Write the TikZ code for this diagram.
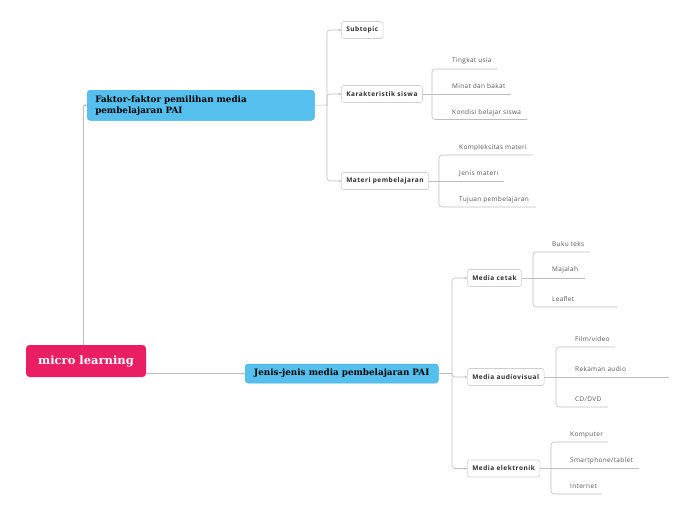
\documentclass[tikz,border=0pt]{standalone}
\usepackage{fontspec}
\setmainfont{Open Sans}
\newfontfamily\slab{DejaVu Serif}
\newfontfamily\labf{Open Sans}[LetterSpace=8]
\newfontfamily\leaff{Open Sans}[LetterSpace=5]
\usetikzlibrary{arrows.meta}
\definecolor{rootc}{HTML}{E91E63}
\definecolor{bluec}{HTML}{55BFEE}
\definecolor{blueb}{HTML}{3FAEE0}
\definecolor{linec}{HTML}{BDBDBD}
\definecolor{boxb}{HTML}{CFCFCF}
\definecolor{txt}{HTML}{2E2E2E}
\definecolor{leaft}{HTML}{555555}
\begin{document}
\begin{tikzpicture}[x=1pt,y=-1pt,
  box/.style={draw=boxb, fill=white, rounded corners=2.5pt, line width=0.6pt,
    minimum height=17pt, inner xsep=5pt, inner ysep=0pt, anchor=west,
    font=\labf\fontsize{6.5}{7.5}\selectfont\bfseries, text=txt},
  leaf/.style={anchor=base west, inner sep=0pt, font=\leaff\fontsize{6.5}{7.5}\selectfont, text=leaft},
  conn/.style={draw=linec, line width=0.6pt, rounded corners=3pt},
  arr/.style={-{Stealth[length=2.5pt,width=2.6pt]}},
  topic/.style={draw=blueb, fill=bluec, rounded corners=3pt, line width=0.5pt,
    font=\slab\bfseries\fontsize{8.8}{11}\selectfont, text=black},
]
\useasboundingbox (0,0) rectangle (696,520);

% root
\node[fill=rootc, rounded corners=3.5pt, minimum width=120pt, minimum height=32pt,
  font=\slab\bfseries\fontsize{11.5}{13}\selectfont, text=white] (R) at (86,361) {micro learning};

% main topics
\node[topic, anchor=north west, minimum width=227pt, minimum height=30pt,
  text width=211pt, inner xsep=8pt, align=left] (F) at (87,90)
  {Faktor-faktor pemilihan media\\pembelajaran PAI};
\node[topic, anchor=west, minimum width=193pt, minimum height=19pt] (J) at (245,373.5)
  {Jenis-jenis media pembelajaran PAI};

\draw[conn, rounded corners=0pt, arr] ([xshift=-3pt]R.north) |- (F.west);
\draw[conn, arr] (R.east |- J.west) -- (J.west);

% Faktor subtopics
\node[box] (S) at (341,30) {Subtopic};
\node[box] (K) at (341,94) {Karakteristik siswa};
\node[box] (M) at (341,181) {Materi pembelajaran};
\coordinate (jF) at (327,105);
\draw[conn] (F.east) -- (jF);
\draw[conn, arr] (jF) |- (S.west);
\draw[conn, arr] (jF) |- (K.west);
\draw[conn, arr] (jF) |- (M.west);

% Karakteristik leaves
\coordinate (jK) at (432,94);
\draw[conn] (K.east) -- (jK);
\node[leaf] (k1) at (452,62.5) {Tingkat usia};
\node[leaf] (k2) at (452,88) {Minat dan bakat};
\node[leaf] (k3) at (452,114) {Kondisi belajar siswa};
\coordinate (k1e) at (497,69);
\coordinate (k2e) at (511,94);
\coordinate (k3e) at (527,119.5);
\draw[conn] (jK) |- (k1e);
\draw[conn] (jK) -- (k2e);
\draw[conn] (jK) |- (k3e);

% Materi leaves
\coordinate (jM) at (439,181);
\draw[conn] (M.east) -- (jM);
\node[leaf] (m1) at (459,149) {Kompleksitas materi};
\node[leaf] (m2) at (459,175) {Jenis materi};
\node[leaf] (m3) at (459,201) {Tujuan pembelajaran};
\coordinate (m1e) at (533,155);
\coordinate (m2e) at (504,181);
\coordinate (m3e) at (536,207);
\draw[conn] (jM) |- (m1e);
\draw[conn] (jM) -- (m2e);
\draw[conn] (jM) |- (m3e);

% Jenis subtopics
\node[box] (MC) at (467,278) {Media cetak};
\node[box] (MA) at (467,377) {Media audiovisual};
\node[box] (ME) at (467,468.5) {Media elektronik};
\coordinate (jJ) at (452,373.5);
\draw[conn] (J.east) -- (jJ);
\draw[conn, arr] (jJ) |- (MC.west);
\draw[conn, arr] (jJ) |- (MA.west);
\draw[conn, arr] (jJ) |- (ME.west);

% Media cetak leaves
\coordinate (jC) at (533,278);
\draw[conn] (MC.east) -- (jC);
\node[leaf] (c1) at (552,246) {Buku teks};
\node[leaf] (c2) at (552,271.5) {Majalah};
\node[leaf] (c3) at (552,301.5) {Leaflet};
\coordinate (c1e) at (590,252);
\coordinate (c2e) at (585,278);
\coordinate (c3e) at (617,307);
\draw[conn] (jC) |- (c1e);
\draw[conn] (jC) -- (c2e);
\draw[conn] (jC) |- (c3e);

% Media audiovisual leaves
\coordinate (jA) at (556,377);
\draw[conn] (MA.east) -- (jA);
\node[leaf] (a1) at (575,341) {Film/video};
\node[leaf] (a2) at (575,371) {Rekaman audio};
\node[leaf] (a3) at (575,401.5) {CD/DVD};
\coordinate (a1e) at (615,347);
\coordinate (a2e) at (669,377);
\coordinate (a3e) at (608,407);
\draw[conn] (jA) |- (a1e);
\draw[conn] (jA) -- (a2e);
\draw[conn] (jA) |- (a3e);

% Media elektronik leaves
\coordinate (jE) at (551,468.5);
\draw[conn] (ME.east) -- (jE);
\node[leaf] (e1) at (570,436.5) {Komputer};
\node[leaf] (e2) at (570,462.5) {Smartphone/tablet};
\node[leaf] (e3) at (570,488.5) {Internet};
\coordinate (e1e) at (608,442);
\coordinate (e2e) at (639,468.5);
\coordinate (e3e) at (602,494);
\draw[conn] (jE) |- (e1e);
\draw[conn] (jE) -- (e2e);
\draw[conn] (jE) |- (e3e);
\end{tikzpicture}
\end{document}
